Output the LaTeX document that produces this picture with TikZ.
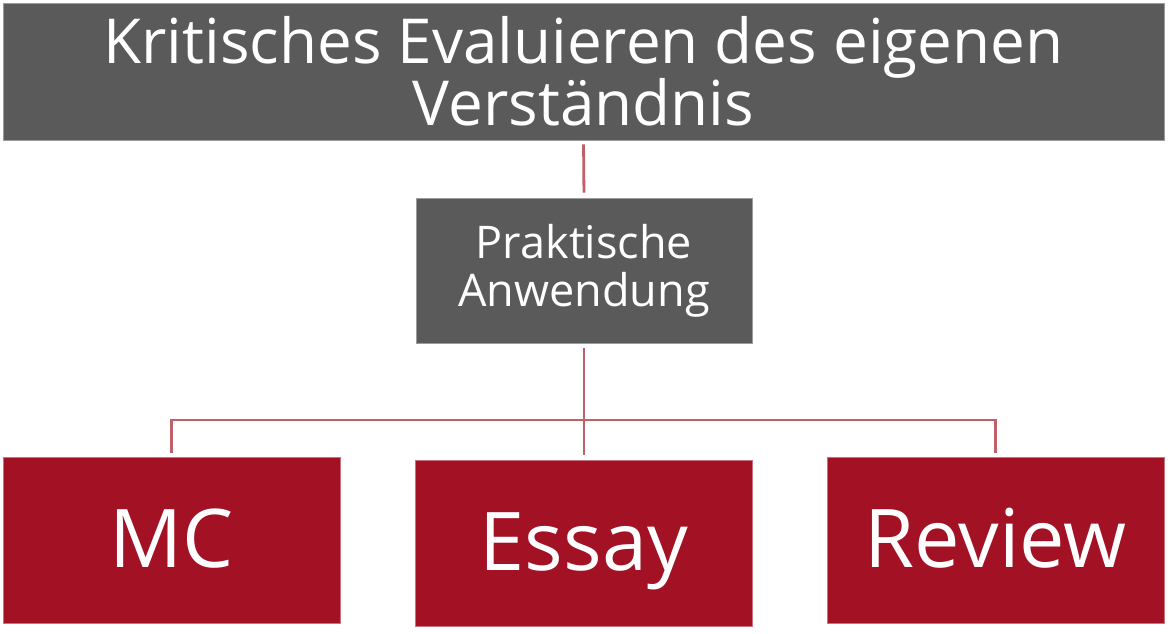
\documentclass[tikz,border=0pt]{standalone}
\usepackage{fontspec}
\setmainfont{Open Sans}
\definecolor{boxgray}{RGB}{90,90,90}
\definecolor{boxred}{RGB}{163,17,36}
\definecolor{linkred}{RGB}{192,96,104}
\begin{document}
\begin{tikzpicture}[x=1pt,y=-1pt,
  graybox/.style={rectangle, fill=boxgray, draw=boxgray!60!white, line width=0.6pt, text=white, align=center, inner sep=0pt},
  redbox/.style={rectangle, fill=boxred, draw=boxred!60!white, line width=0.6pt, text=white, align=center, inner sep=0pt, minimum width=337pt, minimum height=166pt, font=\fontsize{81}{81}\selectfont, text height=58pt, text depth=4pt},
  link/.style={draw=linkred, line width=2.8pt}
]
\useasboundingbox (0,0) rectangle (1170,634);
\fill[white] (0,0) rectangle (1170,634);
\node[graybox, minimum width=1161pt, minimum height=137pt, font=\fontsize{62}{62}\selectfont] (top) at (583.5,71.5) {Kritisches Evaluieren des eigenen\\Verständnis};
\node[graybox, minimum width=336pt, minimum height=145pt, font=\fontsize{45}{48}\selectfont] (mid) at (584,270.5) {Praktische\\Anwendung};
\node[redbox] (mc) at (171.5,540) {MC};
\node[redbox] (essay) at (584,543) {Essay};
\node[redbox] (review) at (995.5,540) {Review};
\coordinate (bus) at (584,420);
\draw[link, shorten <=4pt, shorten >=5pt] (top.south) -- (mid.north);
\draw[link, shorten <=5pt, shorten >=5pt] (mid.south) -- (essay.north);
\draw[link, shorten <=4pt, shorten >=4pt] (mc.north) |- (bus) -| (review.north);
\end{tikzpicture}
\end{document}
